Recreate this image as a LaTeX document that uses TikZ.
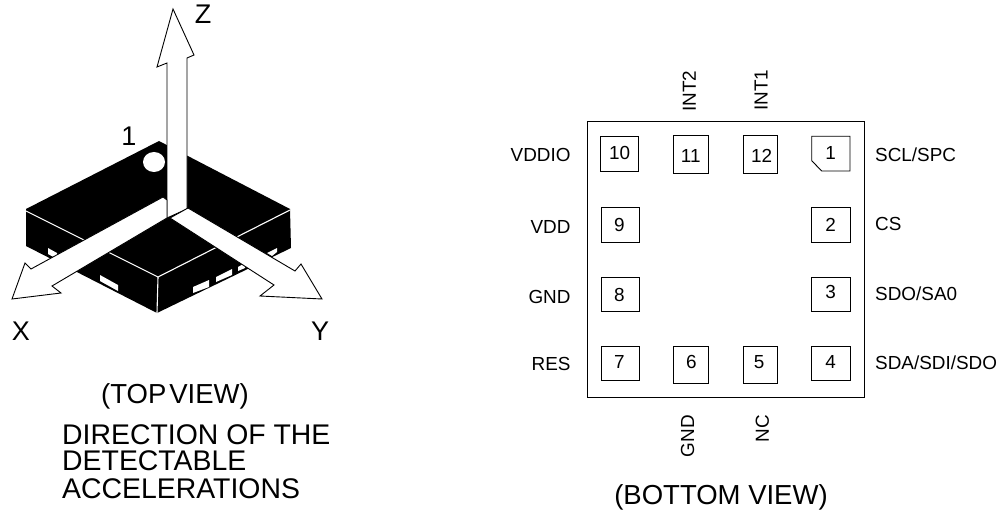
\documentclass[tikz,border=0pt]{standalone}
\usepackage{fontspec}
\setmainfont{Liberation Sans}
\tikzset{
  pad/.style={draw=black,line width=0.9pt,fill=white},
  axisarrow/.style={draw=black,line width=0.9pt,fill=white,line join=miter},
  bump/.style={fill=white,draw=none},
  edgeline/.style={draw=white,line width=1.1pt},
  lab/.style={inner sep=0pt,font=\fontsize{18.9}{18.9}\selectfont},
  big/.style={inner sep=0pt,font=\fontsize{27}{27}\selectfont},
  captext/.style={inner sep=0pt,anchor=west,font=\fontsize{28.4}{28.4}\selectfont},
  viewtext/.style={inner sep=0pt,font=\fontsize{27.5}{27.5}\selectfont}
}
\begin{document}
\begin{tikzpicture}[x=1pt,y=-1pt]
\useasboundingbox (0,0) rectangle (1003,513);
% package
\fill[black] (159,141) -- (290,209) -- (291,248) -- (157,313) -- (26,246) -- (26,209) -- cycle;
\draw[edgeline] (26,211) -- (158,277) -- (290,210);
\draw[edgeline] (158,277) -- (157,313);
\fill[white] (154,162) ellipse (11 and 10);
\fill[bump] (48,248) -- (57,253) -- (57,259) -- (48,254) -- cycle;
\fill[bump] (100,275) -- (118,285) -- (118,291) -- (100,281) -- cycle;
\fill[bump] (193,287) -- (209,280) -- (209,287) -- (193,293) -- cycle;
\fill[bump] (216,277) -- (232,269) -- (232,275) -- (216,282) -- cycle;
\fill[bump] (238,267) -- (245,263) -- (245,268) -- (238,271) -- cycle;
\fill[bump] (267,253) -- (277,248) -- (277,252) -- (272,256) -- cycle;
% axes
\path[axisarrow] (167,218) -- (167,63) -- (157,67) -- (173,9) -- (194,55) -- (187,58) -- (187,209) -- cycle;
\path[axisarrow] (12,299) -- (25,263) -- (31,269) -- (163,197) -- (167,200) -- (167,218) -- (52,286) -- (61,293) -- cycle;
\path[axisarrow] (322,299) -- (301,264) -- (295,271) -- (188,208) -- (170,218) -- (274,285) -- (260,296) -- cycle;
\node[big] (axisZ) at (203,14) {Z};
\node[big] (axisX) at (21,331) {X};
\node[big] (axisY) at (320,331) {Y};
\node[big] (pinone) at (129,136) {1};
\node[viewtext] (topview) at (175,396) {(TOP\kern3pt VIEW)};
\node[captext] (capa) at (62,435) {DIRECTION OF THE};
\node[captext] (capb) at (62,461) {DETECTABLE};
\node[captext] (capc) at (62,489) {ACCELERATIONS};
\node[viewtext] (bottomview) at (721,497) {(BOTTOM VIEW)};
% bottom view
\draw[draw=black,line width=0.9pt] (587.3,121.7) rectangle (864,397.7);
\draw[pad] (600.7,136.3) rectangle (638.7,171);
\draw[pad] (673.7,135.7) rectangle (708.7,173.3);
\draw[pad] (743,135.7) rectangle (777.7,173.3);
\draw[pad] (811.7,136.3) -- (850,136.3) -- (850,171) -- (821.7,171) -- (811.7,160.7) -- cycle;
\draw[pad] (601.3,207.7) rectangle (639.7,242.3);
\draw[pad] (811.7,207.7) rectangle (850,242.3);
\draw[pad] (601.3,277) rectangle (639.7,311.7);
\draw[pad] (811.7,277) rectangle (850,311.7);
\draw[pad] (601.3,346) rectangle (639.7,380.7);
\draw[pad] (811.7,346) rectangle (850,380.7);
\draw[pad] (673.7,346) rectangle (708.7,383.7);
\draw[pad] (743,346) rectangle (777.7,383.7);
\node[lab] (n10) at (619.7,153.3) {10};
\node[lab] (n11) at (690.7,155.7) {11};
\node[lab] (n12) at (761.7,155.7) {12};
\node[lab] (n1) at (830.7,153.3) {1};
\node[lab] (n9) at (619.3,225) {9};
\node[lab] (n2) at (830.7,225) {2};
\node[lab] (n8) at (619.3,295.3) {8};
\node[lab] (n3) at (830.7,292.3) {3};
\node[lab] (n7) at (619.3,362.3) {7};
\node[lab] (n4) at (830.7,362.3) {4};
\node[lab] (n6) at (691.3,362.3) {6};
\node[lab] (n5) at (759,362.3) {5};
\node[lab,anchor=east] (lvddio) at (570.7,155) {VDDIO};
\node[lab,anchor=east] (lvdd) at (570.7,226.7) {VDD};
\node[lab,anchor=east] (lgnd) at (570.7,297) {GND};
\node[lab,anchor=east] (lres) at (570.7,364) {RES};
\node[lab,anchor=west] (lscl) at (875,154.3) {SCL/SPC};
\node[lab,anchor=west] (lcs) at (875,223.7) {CS};
\node[lab,anchor=west] (lsdo) at (875,293.3) {SDO/SA0};
\node[lab,anchor=west] (lsda) at (875,362.3) {SDA/SDI/SDO};
\node[lab,rotate=90,anchor=west] (lint2) at (689.3,111.7) {INT2};
\node[lab,rotate=90,anchor=west] (lint1) at (761,111) {INT1};
\node[lab,rotate=90,anchor=east] (lgnd2) at (687.7,415) {GND};
\node[lab,rotate=90,anchor=east] (lnc) at (762.3,415) {NC};
\end{tikzpicture}
\end{document}
